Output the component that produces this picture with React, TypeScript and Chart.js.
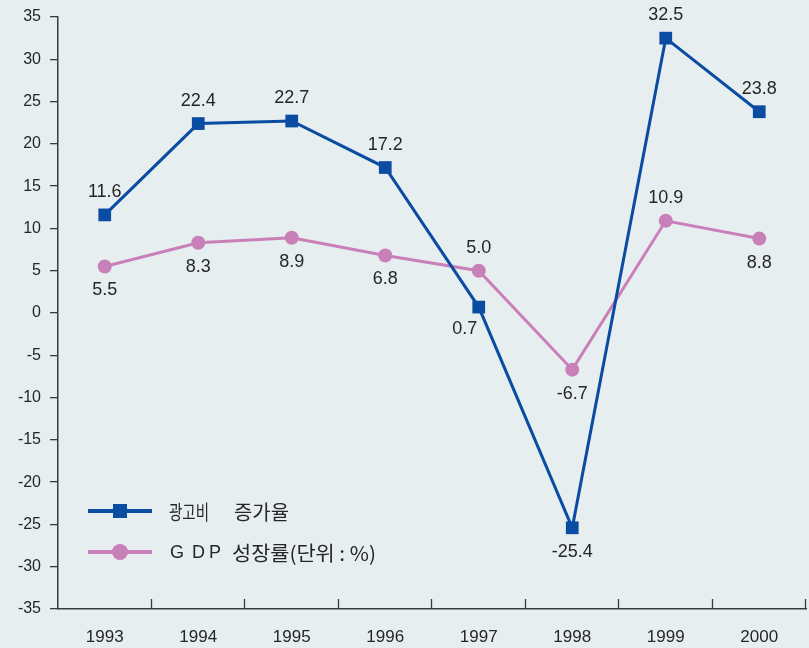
import React, { useEffect, useRef } from "react";
import { Chart, registerables } from "chart.js";

Chart.register(...registerables);

const years = ["1993", "1994", "1995", "1996", "1997", "1998", "1999", "2000"];
const adGrowth = [11.6, 22.4, 22.7, 17.2, 0.7, -25.4, 32.5, 23.8];
const gdpGrowth = [5.5, 8.3, 8.9, 6.8, 5.0, -6.7, 10.9, 8.8];
const yMin = -35;
const yMax = 35;
const yStep = 5;
const adLabel = "광고비 증가율";
const gdpLabel = "GDP 성장률(단위 : %)";

const BLUE = "#0a4ca2";
const PINK = "#c97fb8";
const BG = "#e7eef0";
const TEXT = "#262626";
const AXIS = "#3a3a3a";

// label placement (style): per dataset, per point
const adPlace = ["above", "above", "above", "above", "belowLeft", "below", "above", "above"];
const gdpPlace = ["below", "below", "below", "below", "above", "below", "above", "below"];

const bgPlugin = {
  id: "bgFill",
  beforeDraw(chart: any) {
    const { ctx, width, height } = chart;
    ctx.save();
    ctx.fillStyle = BG;
    ctx.fillRect(0, 0, width, height);
    ctx.restore();
  },
};

const xTickPlugin = {
  id: "xInnerTicks",
  afterDraw(chart: any) {
    const xs = chart.scales.x;
    const { ctx } = chart;
    const n = xs.ticks.length;
    const bottom = chart.chartArea.bottom;
    ctx.save();
    ctx.strokeStyle = AXIS;
    ctx.lineWidth = 1.3;
    for (let i = 1; i <= n; i++) {
      const x = Math.round(xs.left + (i * xs.width) / n) - 0.5;
      ctx.beginPath();
      ctx.moveTo(x, bottom - 10);
      ctx.lineTo(x, bottom);
      ctx.stroke();
    }
    ctx.restore();
  },
};

const labelPlugin = {
  id: "pointLabels",
  afterDatasetsDraw(chart: any) {
    const { ctx } = chart;
    const places = [adPlace, gdpPlace];
    ctx.save();
    ctx.font = "18px 'Liberation Sans', Arial, sans-serif";
    ctx.fillStyle = TEXT;
    ctx.textAlign = "center";
    ctx.textBaseline = "middle";
    chart.data.datasets.forEach((ds: any, di: number) => {
      const meta = chart.getDatasetMeta(di);
      meta.data.forEach((pt: any, i: number) => {
        const v = ds.data[i];
        const txt = v.toFixed(1);
        const p = places[di][i];
        let dx = 0;
        let dy = -23;
        if (p === "below") dy = 24;
        if (p === "belowLeft") {
          dx = -14;
          dy = 22;
        }
        ctx.fillText(txt, pt.x + dx, pt.y + dy);
      });
    });
    ctx.restore();
  },
};

function fitText(ctx: any, text: string, x: number, y: number, target: number) {
  const w = ctx.measureText(text).width;
  const s = target / w;
  ctx.save();
  ctx.textAlign = "left";
  ctx.translate(x, y);
  ctx.scale(s, 1);
  ctx.fillText(text, 0, 0);
  ctx.restore();
}

const legendPlugin = {
  id: "innerLegend",
  afterDatasetsDraw(chart: any) {
    const { ctx } = chart;
    ctx.save();
    // ad growth
    ctx.strokeStyle = BLUE;
    ctx.lineWidth = 4;
    ctx.beginPath();
    ctx.moveTo(88, 511);
    ctx.lineTo(152, 511);
    ctx.stroke();
    ctx.fillStyle = BLUE;
    ctx.fillRect(113, 504, 14, 14);
    // gdp
    ctx.strokeStyle = PINK;
    ctx.beginPath();
    ctx.moveTo(88, 552);
    ctx.lineTo(152, 552);
    ctx.stroke();
    ctx.fillStyle = PINK;
    ctx.beginPath();
    ctx.arc(120, 552, 8, 0, Math.PI * 2);
    ctx.fill();

    ctx.fillStyle = TEXT;
    ctx.textAlign = "left";
    ctx.textBaseline = "middle";
    ctx.font = "20px 'Noto Sans CJK KR', sans-serif";
    const [w1, w2] = adLabel.split(" ");
    fitText(ctx, w1, 169, 512, 40);
    fitText(ctx, w2, 234, 512, 55);

    const parts = gdpLabel.split(" ");
    const gdp = parts[0];
    const rest = parts.slice(1).join(" ");
    ctx.font = "18px 'Liberation Sans', Arial, sans-serif";
    const letterX = [170, 192, 209];
    for (let i = 0; i < gdp.length; i++) {
      ctx.fillText(gdp[i], letterX[i] ?? 209 + (i - 2) * 20, 553);
    }
    ctx.font = "20px 'Noto Sans CJK KR', sans-serif";
    fitText(ctx, rest, 232, 553, 144);
    ctx.restore();
  },
};

export default function App() {
  const ref = useRef<HTMLCanvasElement | null>(null);

  useEffect(() => {
    document.body.style.margin = "0";
    document.body.style.background = BG;
    const canvas = ref.current;
    if (!canvas) return;
    const chart = new Chart(canvas, {
      type: "line",
      data: {
        labels: years,
        datasets: [
          {
            label: adLabel,
            data: adGrowth,
            borderColor: BLUE,
            backgroundColor: BLUE,
            borderWidth: 3,
            pointStyle: "rect",
            pointRadius: 9,
            pointHoverRadius: 9,
            pointBorderWidth: 0,
            tension: 0,
            order: 0,
          },
          {
            label: gdpLabel,
            data: gdpGrowth,
            borderColor: PINK,
            backgroundColor: PINK,
            borderWidth: 3,
            pointStyle: "circle",
            pointRadius: 7,
            pointHoverRadius: 7,
            pointBorderWidth: 0,
            tension: 0,
            order: 1,
          },
        ],
      },
      options: {
        responsive: false,
        animation: false,
        devicePixelRatio: 1,
        layout: { autoPadding: false, padding: { top: 17, right: 3, left: 0, bottom: 0 } },
        plugins: {
          legend: { display: false },
          tooltip: { enabled: false },
          title: { display: false },
        },
        scales: {
          x: {
            type: "category",
            offset: true,
            grid: { display: false, offset: true },
            border: { display: true, color: AXIS, width: 1.5 },
            ticks: {
              color: TEXT,
              padding: 10,
              font: { family: "'Liberation Sans', Arial, sans-serif", size: 17 },
              maxRotation: 0,
              autoSkip: false,
            },
            afterFit: (s: any) => {
              s.height = 39;
              s.paddingLeft = 0;
              s.paddingRight = 0;
            },
          },
          y: {
            min: yMin,
            max: yMax,
            ticks: {
              stepSize: yStep,
              color: TEXT,
              padding: 9,
              font: { family: "'Liberation Sans', Arial, sans-serif", size: 16 },
            },
            grid: {
              drawOnChartArea: false,
              drawTicks: true,
              tickLength: 8,
              color: AXIS,
              lineWidth: 1.3,
            },
            border: { display: true, color: AXIS, width: 1.5 },
            afterFit: (s: any) => {
              s.width = 58;
              s.paddingTop = 0;
              s.paddingBottom = 0;
            },
          },
        },
      },
      plugins: [bgPlugin, xTickPlugin, labelPlugin, legendPlugin],
    });
    return () => chart.destroy();
  }, []);

  return (
    <div style={{ position: "fixed", left: 0, top: 0, width: 809, height: 648 }}>
      <canvas ref={ref} width={809} height={648} style={{ display: "block" }} />
    </div>
  );
}
